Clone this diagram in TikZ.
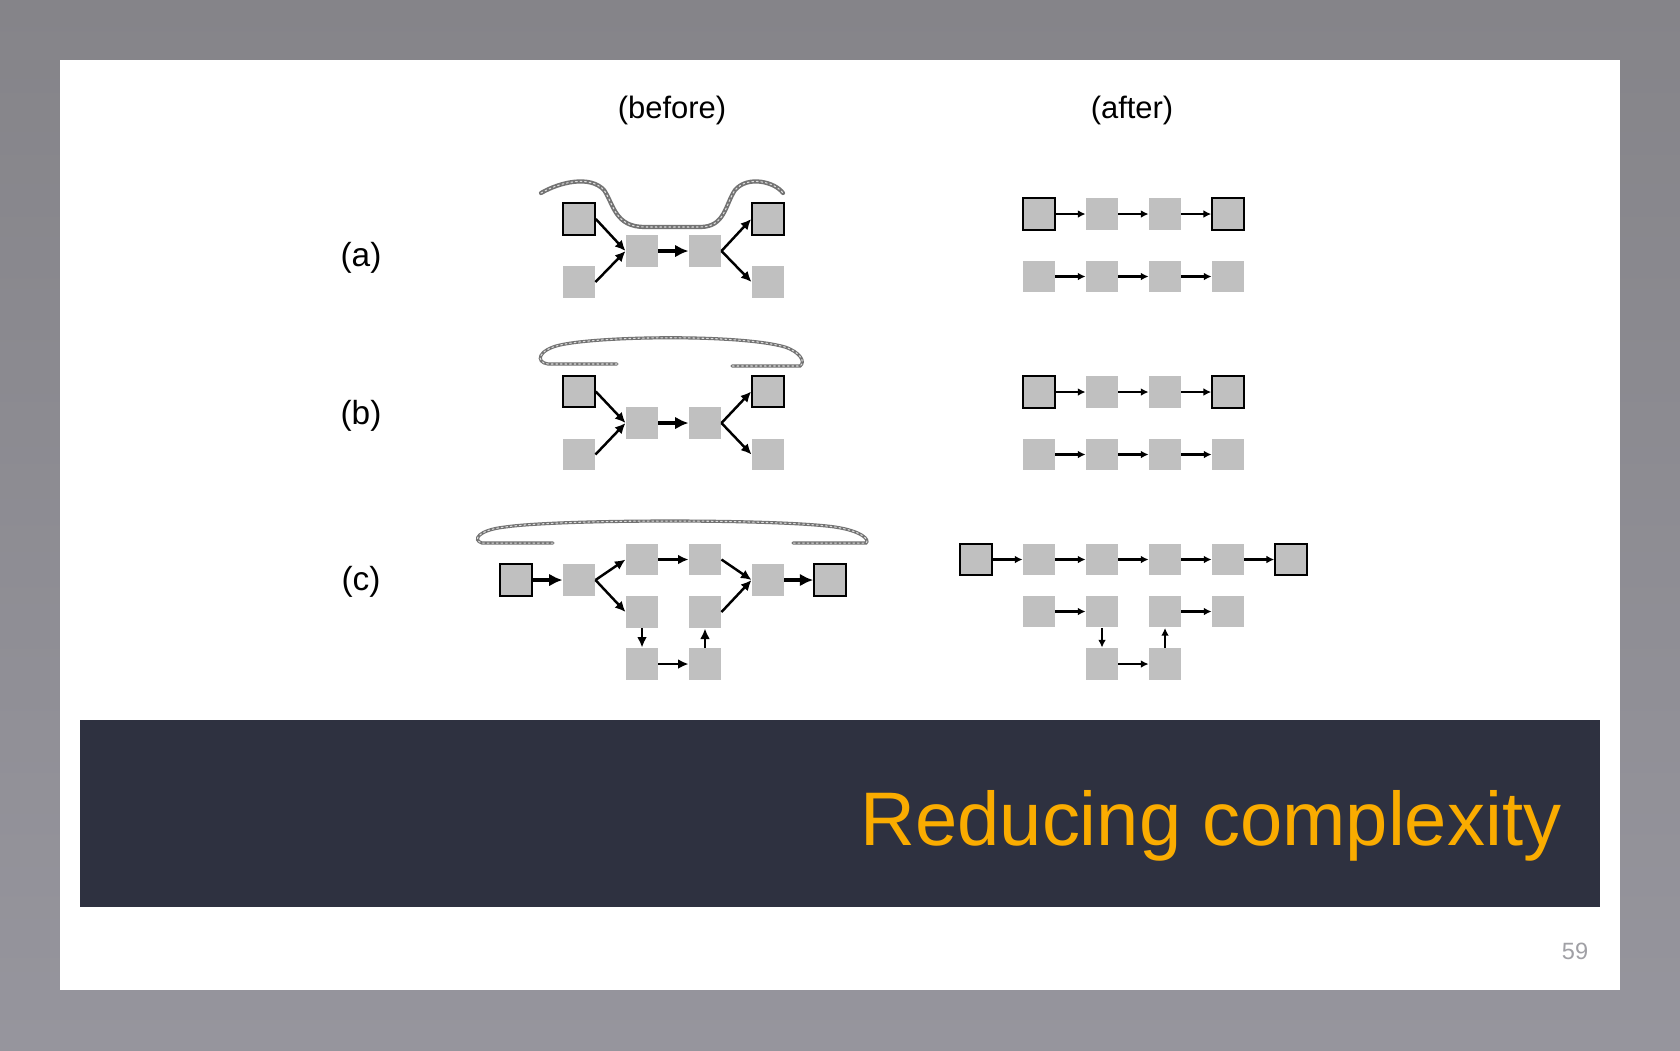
\documentclass[tikz,border=0pt]{standalone}
\usepackage{fontspec}
\setmainfont{Liberation Sans}
\usetikzlibrary{arrows.meta}
\definecolor{boxgray}{RGB}{192,192,192}
\definecolor{ropegray}{RGB}{115,115,115}
\definecolor{bandblue}{RGB}{46,49,64}
\definecolor{titleorange}{RGB}{250,172,0}
\definecolor{pagegray}{RGB}{160,160,165}
\definecolor{frametop}{RGB}{133,132,137}
\definecolor{framebot}{RGB}{150,149,157}
\begin{document}
\begin{tikzpicture}[x=0.01cm,y=-0.01cm]

\newcommand{\bsz}{0.315cm}
\tikzstyle{box}=[fill=boxgray, minimum size=\bsz, inner sep=0pt]
\tikzstyle{endbox}=[box, draw=black, line width=0.6pt]
\tikzstyle{arr}=[line width=0.7pt, -{Latex[length=3pt,width=2.8pt]}]
\tikzstyle{bigarr}=[line width=1.3pt, -{Latex[length=3.8pt,width=3.6pt]}]
\tikzstyle{smallarr}=[line width=0.7pt, -{Latex[length=2.2pt,width=2.2pt]}]
\tikzstyle{rope}=[line width=0.9pt, ropegray, line cap=round, postaction={draw=white!75!ropegray, line width=0.3pt, dash pattern=on 0.5pt off 0.8pt}]
\tikzstyle{lbl}=[font=\fontsize{9.5}{11}\selectfont]
\tikzstyle{head}=[font=\fontsize{8.8}{10}\selectfont]

  \useasboundingbox (0,0) rectangle (1680,1050);
  \shade[top color=frametop, bottom color=framebot] (0,0) rectangle (1680,1050);
  \fill[white] (60,60) rectangle (1620,990);
  \fill[bandblue] (80,720) rectangle (1600,907);

  \node[anchor=base east, inner sep=0pt, text=titleorange, font=\fontsize{21.6}{26}\selectfont] (title) at (1562,845) {Reducing complexity};
  \node[text=pagegray, font=\fontsize{6.7}{8}\selectfont] (page) at (1575,951) {59};

  \node[head] (before) at (672,110) {(before)};
  \node[head] (after) at (1132,110) {(after)};
  \node[lbl] (la) at (361,258) {(a)};
  \node[lbl] (lb) at (361,416) {(b)};
  \node[lbl] (lc) at (361,581.5) {(c)};

  % before, rows (a) and (b)
  \foreach \r/\yt/\ym/\yb in {a/219/251/282, b/391.5/423/454.5}{
    \node[endbox] (\r1) at (579,\yt) {};
    \node[box] (\r2) at (579,\yb) {};
    \node[box] (\r3) at (642,\ym) {};
    \node[box] (\r4) at (705,\ym) {};
    \node[endbox] (\r5) at (768,\yt) {};
    \node[box] (\r6) at (768,\yb) {};
    \path[arr]
      (\r1.east) edge (\r3.west)
      (\r2.east) edge (\r3.west)
      (\r4.east) edge (\r5.west)
      (\r4.east) edge (\r6.west);
    \path[bigarr] (\r3) edge (\r4);
  }

  \draw[rope, line width=1.2pt] (541,193) .. controls (560,182) and (590,175) .. (604,190)
    .. controls (614,205) and (615,227) .. (645,227) -- (700,227)
    .. controls (725,227) and (725,205) .. (735,190)
    .. controls (748,175) and (775,182) .. (783,193);
  \draw[rope] (617,364) -- (548,364) .. controls (535,362) and (538,350) .. (560,345)
    .. controls (600,336) and (740,334) .. (785,347)
    .. controls (800,352) and (806,362) .. (800,366) -- (732,366);

  % before, row (c)
  \node[endbox] (c1) at (516,580) {};
  \node[box] (c2) at (579,580) {};
  \node[box] (c3) at (642,559.5) {};
  \node[box] (c4) at (705,559.5) {};
  \node[box] (c5) at (642,612) {};
  \node[box] (c6) at (705,612) {};
  \node[box] (c7) at (642,664) {};
  \node[box] (c8) at (705,664) {};
  \node[box] (c9) at (768,580) {};
  \node[endbox] (c10) at (830,580) {};
  \path[bigarr]
    (c1) edge (c2)
    (c9) edge (c10);
  \path[arr]
    (c2.east) edge (c3.west)
    (c2.east) edge (c5.west)
    (c3) edge (c4)
    (c4.east) edge (c9.west)
    (c6.east) edge (c9.west)
    (c5) edge (c7)
    (c7) edge (c8)
    (c8) edge (c6);
  \draw[rope] (553,543) -- (482,543) .. controls (472,540) and (478,530) .. (505,527)
    .. controls (560,519) and (780,519) .. (835,527)
    .. controls (862,531) and (870,540) .. (866,543) -- (793,543);

  % after, rows (a) and (b)
  \foreach \r/\ya/\yb in {a/214/276.5, b/392/454.5}{
    \foreach \i/\s in {1/endbox,2/box,3/box,4/endbox}{
      \node[\s] (p\r\i) at (976+63*\i,\ya) {};
      \node[box] (q\r\i) at (976+63*\i,\yb) {};
    }
    \foreach \i [count=\j from 2] in {1,2,3}{
      \path[smallarr] (p\r\i) edge (p\r\j) (q\r\i) edge (q\r\j);
    }
  }

  % after, row (c)
  \foreach \i/\s in {1/endbox,2/box,3/box,4/box,5/box,6/endbox}{
    \node[\s] (pc\i) at (913+63*\i,559.5) {};
  }
  \foreach \i [count=\j from 2] in {1,...,5}{
    \path[smallarr] (pc\i) edge (pc\j);
  }
  \node[box] (qc1) at (1039,611.5) {};
  \node[box] (qc2) at (1102,611.5) {};
  \node[box] (qc3) at (1165,611.5) {};
  \node[box] (qc4) at (1228,611.5) {};
  \node[box] (rc1) at (1102,664) {};
  \node[box] (rc2) at (1165,664) {};
  \path[smallarr]
    (qc1) edge (qc2)
    (qc3) edge (qc4)
    (qc2) edge (rc1)
    (rc1) edge (rc2)
    (rc2) edge (qc3);

\end{tikzpicture}
\end{document}
